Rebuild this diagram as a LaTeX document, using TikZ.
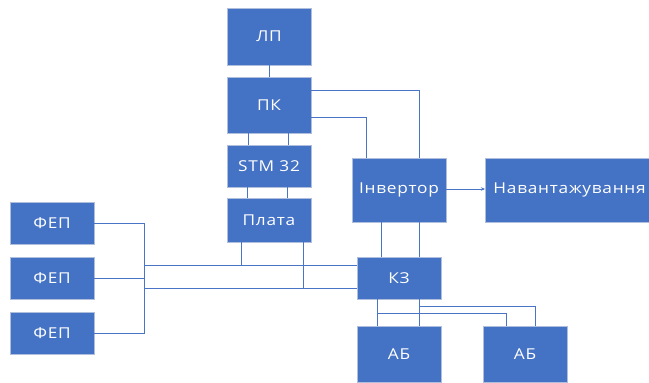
\documentclass[tikz,border=0pt]{standalone}
\usepackage{fontspec}
\newfontfamily\boxfont[FakeStretch=1.15,LetterSpace=5]{Open Sans}
\usetikzlibrary{arrows.meta,calc}
\definecolor{boxblue}{HTML}{4472C4}
\definecolor{boxedge}{HTML}{AEBEDC}
\definecolor{wire}{HTML}{4A75C6}
\tikzset{
  unitbox/.style={rectangle, fill=boxblue, draw=boxedge, line width=0.9pt,
    text=white, font=\boxfont\fontsize{15}{17}\selectfont, inner sep=0pt,
    minimum width=84pt},
  wireline/.style={draw=wire, line width=0.9pt},
}
\begin{document}
\begin{tikzpicture}[x=1pt,y=-1pt]
\useasboundingbox (0,0) rectangle (649,383);
\clip (0,0) rectangle (649,383);

% control chain
\node[unitbox, minimum height=57pt] (lp)    at (269,36.5) {ЛП};
\node[unitbox, minimum height=56pt] (pk)    at (269,105)  {ПК};
\node[unitbox, minimum height=42pt] (stm)   at (269,166)  {STM 32};
\node[unitbox, minimum height=44pt] (plata) at (269,220)  {Плата};

% power path
\node[unitbox, minimum width=94pt, minimum height=64pt] (inv) at (399,190) {Інвертор};
\node[unitbox, anchor=west, minimum height=64pt, text width=190pt, align=left,
      inner xsep=8pt] (load) at (485,190) {Навантажування};
\node[unitbox, minimum height=42pt] (kz)  at (399,278) {КЗ};
\node[unitbox, minimum height=56pt] (ab1) at (399,354) {АБ};
\node[unitbox, minimum height=56pt] (ab2) at (525,354) {АБ};

% solar panels
\node[unitbox, minimum height=42pt] (f1) at (52,223) {ФЕП};
\node[unitbox, minimum height=42pt] (f2) at (52,278) {ФЕП};
\node[unitbox, minimum height=42pt] (f3) at (52,333) {ФЕП};

% connectors
\draw[wireline] (lp.south) -- (pk.north);
\draw[wireline] ([yshift=-14pt]pk.north east) -| ([xshift=68pt]inv.north west);
\draw[wireline] ([yshift=-41pt]pk.north east) -| ([xshift=15pt]inv.north west);
\draw[wireline] ([xshift=22pt]pk.south west) -- ([xshift=22pt]stm.north west);
\draw[wireline] ([xshift=62pt]pk.south west) -- ([xshift=62pt]stm.north west);
\draw[wireline] ([xshift=21pt]stm.south west) -- ([xshift=21pt]plata.north west);
\draw[wireline] ([xshift=61pt]stm.south west) -- ([xshift=61pt]plata.north west);
\draw[wireline, -{Stealth[length=4pt,width=3.5pt]}] ([yshift=1pt]inv.east) -- ([yshift=1pt]load.west);
\draw[wireline] ([xshift=30pt]inv.south west) -- ([xshift=30pt]inv.south west |- kz.north);
\draw[wireline] ([xshift=68pt]inv.south west) -- ([xshift=68pt]inv.south west |- kz.north);
\draw[wireline] ([xshift=21pt]kz.south west) -- ([xshift=21pt]ab1.north west);
\draw[wireline] ([xshift=63pt]kz.south west) -- ([xshift=63pt]ab1.north west);
\draw[wireline] ([xshift=21pt,yshift=-14pt]kz.south west) -| ([xshift=24pt]ab2.north west);
\draw[wireline] ([xshift=63pt,yshift=-7pt]kz.south west) -| ([xshift=53pt]ab2.north west);

% panel bus
\coordinate (bus) at (144,0);
\coordinate (kzA) at ([yshift=-9pt]kz.north west);
\coordinate (kzB) at ([yshift=-32pt]kz.north west);
\draw[wireline] (f1.east) -- (f1.east -| bus) -- (f3.east -| bus) -- (f3.east);
\draw[wireline] (f2.east) -- (f2.east -| bus);
\draw[wireline] (bus |- kzA) -- (kzA);
\draw[wireline] (bus |- kzB) -- (kzB);
\draw[wireline] ([xshift=15pt]plata.south west) -- ([xshift=15pt]plata.south west |- kzA);
\draw[wireline] ([xshift=77pt]plata.south west) -- ([xshift=77pt]plata.south west |- kzB);
\end{tikzpicture}
\end{document}
